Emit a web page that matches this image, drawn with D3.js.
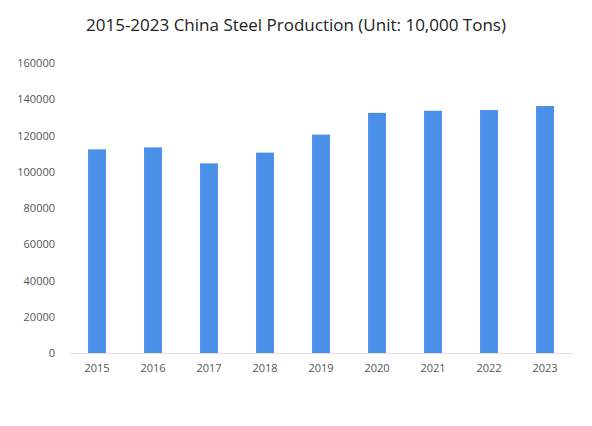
<!DOCTYPE html>
<html><head><meta charset="utf-8">
<script src="https://cdn.jsdelivr.net/npm/d3@7"></script>
<style>body{margin:0;background:#fff}</style>
</head><body>
<svg id="c" width="592" height="426"></svg>
<script>
const years = ["2015","2016","2017","2018","2019","2020","2021","2022","2023"];
const production = [112350,113460,104642,110552,120477,132489,133667,134034,136268];
const yTicks = [0,20000,40000,60000,80000,100000,120000,140000,160000];

const svg = d3.select("#c");
const m = {l:69, r:19, t:63, b:73};
const W = 592, H = 426;
const x = d3.scaleBand().domain(years).range([m.l, W-m.r]).paddingInner(0.68).paddingOuter(0.34);
const y = d3.scaleLinear().domain([0,160000]).range([H-m.b, m.t]);

svg.append("text").attr("x",296).attr("y",31).attr("text-anchor","middle")
  .attr("font-family","Open Sans, sans-serif").attr("font-size",17).attr("fill","#222")
  .text("2015-2023 China Steel Production (Unit: 10,000 Tons)");

svg.selectAll("rect.bar").data(production).enter().append("rect")
  .attr("x",(d,i)=>x(years[i])).attr("width",x.bandwidth())
  .attr("y",d=>y(d)).attr("height",d=>y(0)-y(d)).attr("fill","#4a90e8");

const ya = svg.append("g").attr("transform",`translate(${m.l-11},0)`)
  .call(d3.axisLeft(y).tickValues(yTicks).tickSize(0).tickFormat(d3.format("d")));
ya.select(".domain").remove();
ya.selectAll("text").attr("font-family","Open Sans, sans-serif").attr("font-size",11).attr("fill","#555");

const xa = svg.append("g").attr("transform",`translate(0,${y(0)})`)
  .call(d3.axisBottom(x).tickSize(0).tickPadding(11));
xa.select(".domain").attr("stroke","#ddd");
xa.selectAll("text").attr("font-family","Open Sans, sans-serif").attr("font-size",11).attr("fill","#555");
</script>
</body></html>
